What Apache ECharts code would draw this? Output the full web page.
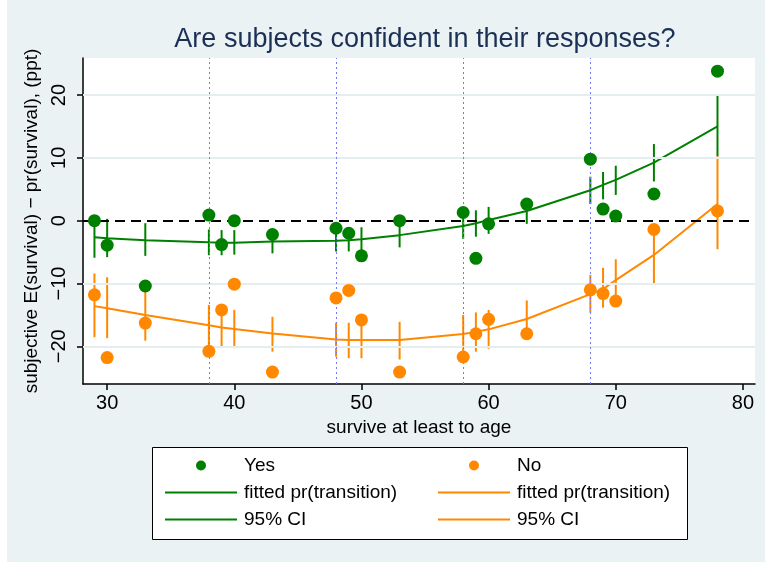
<!DOCTYPE html>
<html>
<head>
<meta charset="utf-8">
<script src="https://cdn.jsdelivr.net/npm/echarts@6/dist/echarts.min.js"></script>
<style>
  html, body { margin: 0; padding: 0; background: #eaf2f3; }
  #chart { width: 765px; height: 562px; }
</style>
</head>
<body>
<div id="chart"></div>
<script>
// ages where each group was asked
var ages = [29, 30, 33, 38, 39, 40, 43, 48, 49, 50, 53, 58, 59, 60, 63, 68, 69, 70, 73, 78];

// "Yes" group: mean, fitted and 95% CI
var yesMean = [0, -3.9, -10.4, 0.9, -3.8, 0, -2.2, -1.2, -2.0, -5.6, 0, 1.3, -6.0, -0.5, 2.65, 9.8, 1.85, 0.75, 4.25, 23.8];
var yesFit = [-2.65, -2.8, -3.1, -3.45, -3.5, -3.5, -3.3, -3.2, -3.1, -2.95, -2.3, -0.85, -0.4, 0.1, 1.55, 4.85, 5.7, 6.5, 9.25, 15.0];
var yesLo = [-5.9, -5.8, -5.6, -5.5, -5.5, -5.4, -5.2, -4.9, -4.9, -4.85, -4.25, -2.9, -2.55, -2.1, -0.5, 2.65, 3.4, 4.1, 6.25, 10.3];
var yesHi = [0.6, 0.3, -0.4, -1.4, -1.5, -1.5, -1.4, -1.5, -1.3, -1.05, -0.35, 1.2, 1.65, 2.2, 3.45, 7.0, 7.75, 8.75, 12.2, 20.0];

// "No" group
var noMean = [-11.8, -21.8, -16.3, -20.8, -14.2, -10.1, -24.1, -12.3, -11.1, -15.8, -24.1, -21.7, -18.0, -15.7, -18.0, -11.0, -11.6, -12.8, -1.4, 1.55];
var noFit = [-13.6, -13.95, -15.0, -16.65, -17.0, -17.25, -17.95, -18.9, -19.0, -19.0, -19.0, -18.05, -17.7, -17.3, -15.65, -11.7, -10.9, -9.45, -5.45, 2.65];
var noLo = [-18.55, -18.7, -19.1, -19.9, -20.15, -20.3, -20.85, -21.65, -21.9, -21.9, -22.1, -21.1, -20.85, -20.4, -18.6, -14.65, -13.85, -12.75, -9.95, -4.55];
var noHi = [-8.4, -9.0, -10.9, -13.4, -13.85, -14.2, -15.3, -16.25, -16.25, -16.1, -16.1, -15.0, -14.6, -14.2, -12.7, -8.65, -7.5, -6.15, -0.95, 10.3];

var xTicks = [30, 40, 50, 60, 70, 80];
var yTicks = [-20, -10, 0, 10, 20];
var xRefLines = [38, 48, 58, 68];
var legendNames = {
  yes: "Yes", no: "No",
  fitYes: "fitted pr(transition)", fitNo: "fitted pr(transition)",
  ciYes: "95% CI", ciNo: "95% CI"
};

var green = "#008000";
var orange = "#ff8800";
var font = "Liberation Sans, Arial, sans-serif";

function pairs(ys) {
  return ages.map(function (a, i) { return [a, ys[i]]; });
}
function ciRows(lo, hi) {
  return ages.map(function (a, i) { return [a, lo[i], hi[i]]; });
}
function ciSeries(name, lo, hi, color) {
  return {
    name: name,
    type: "custom",
    z: 4,
    encode: { x: 0, y: [1, 2] },
    data: ciRows(lo, hi),
    itemStyle: { color: color },
    renderItem: function (params, api) {
      var p1 = api.coord([api.value(0), api.value(1)]);
      var p2 = api.coord([api.value(0), api.value(2)]);
      return {
        type: "line",
        shape: { x1: p1[0], y1: p1[1], x2: p2[0], y2: p2[1] },
        style: { stroke: color, lineWidth: 2 }
      };
    }
  };
}

var lineIcon = "path://M0,0 L72,0 L72,2 L0,2 Z";

function legendCol(names, left) {
  return {
    data: [
      { name: names[0], icon: "circle" },
      { name: names[1], icon: lineIcon },
      { name: names[2], icon: lineIcon }
    ],
    orient: "vertical", left: left, top: 451,
    itemWidth: 72, itemHeight: 10, itemGap: 8,
    selectedMode: false,
    formatter: function (n) { return legendNames[n]; },
    textStyle: { fontFamily: font, fontSize: 19, color: "#000", padding: [0, 0, 0, 2] }
  };
}

var myChart = echarts.init(document.getElementById("chart"));
myChart.setOption({
  backgroundColor: "#eaf2f3",
  animation: false,
  title: {
    text: "Are subjects confident in their responses?",
    left: 420, top: 21, textAlign: "center",
    textStyle: { fontFamily: font, fontSize: 27, fontWeight: "normal", color: "#1c2f55" }
  },
  grid: { left: 83, right: 10, top: 58, bottom: 178, show: true, backgroundColor: "#ffffff", borderWidth: 0 },
  graphic: [
    { type: "rect", left: 0, top: 0, shape: { width: 7, height: 562 }, style: { fill: "#ffffff" } },
    { type: "rect", left: 152, top: 447, z: -1,
      shape: { width: 535, height: 92 },
      style: { fill: "#ffffff", stroke: "#000000", lineWidth: 1 } }
  ],
  legend: [
    legendCol(["yes", "fitYes", "ciYes"], 160),
    legendCol(["no", "fitNo", "ciNo"], 433)
  ],
  xAxis: {
    type: "value",
    min: 28.1, max: 80.95,
    name: "survive at least to age",
    nameLocation: "middle", nameGap: 31,
    nameTextStyle: { fontFamily: font, fontSize: 19, color: "#000" },
    axisLine: { onZero: false, lineStyle: { color: "#000", width: 1.5 } },
    axisTick: { customValues: xTicks, length: 6, lineStyle: { color: "#000", width: 1.5 } },
    axisLabel: { customValues: xTicks, fontFamily: font, fontSize: 20, color: "#000", margin: 9 },
    splitLine: { show: false }
  },
  yAxis: {
    type: "value",
    min: -26, max: 25.9,
    name: "subjective E(survival) \u2212 pr(survival), (ppt)",
    nameLocation: "middle", nameGap: 35, nameRotate: 90,
    nameTextStyle: { fontFamily: font, fontSize: 19, color: "#000" },
    axisLine: { onZero: false, lineStyle: { color: "#000", width: 1.5 } },
    axisTick: { customValues: yTicks, length: 6, lineStyle: { color: "#000", width: 1.5 } },
    axisLabel: {
      customValues: yTicks, rotate: 90, fontFamily: font, fontSize: 20, color: "#000", margin: 14,
      formatter: function (v) { return v < 0 ? "\u2212" + Math.abs(v) : String(v); }
    },
    splitLine: { show: false }
  },
  series: [
    {
      // grid lines and reference lines
      name: "refs",
      type: "line",
      data: [],
      silent: true,
      markLine: {
        silent: true,
        symbol: "none",
        label: { show: false },
        data: yTicks.filter(function (t) { return t !== 0; }).map(function (t) {
          return { yAxis: t, lineStyle: { color: "#e4eef0", width: 2, type: "solid" } };
        }).concat([{ yAxis: 0, lineStyle: { color: "#000", width: 2, type: [10, 6] } }])
          .concat(xRefLines.map(function (v) {
            return { xAxis: v, lineStyle: { color: "#7878ff", width: 1, type: [2, 3] } };
          }))
      }
    },
    {
      name: "fitYes", type: "line", data: pairs(yesFit), z: 3,
      symbol: "none", color: green, lineStyle: { color: green, width: 2 }
    },
    {
      name: "fitNo", type: "line", data: pairs(noFit), z: 3,
      symbol: "none", color: orange, lineStyle: { color: orange, width: 2 }
    },
    ciSeries("ciYes", yesLo, yesHi, green),
    ciSeries("ciNo", noLo, noHi, orange),
    {
      name: "yes", type: "scatter", data: pairs(yesMean), z: 5,
      symbolSize: 13, itemStyle: { color: green, opacity: 1 }
    },
    {
      name: "no", type: "scatter", data: pairs(noMean), z: 5,
      symbolSize: 13, itemStyle: { color: orange, opacity: 1 }
    }
  ]
});
</script>
</body>
</html>
